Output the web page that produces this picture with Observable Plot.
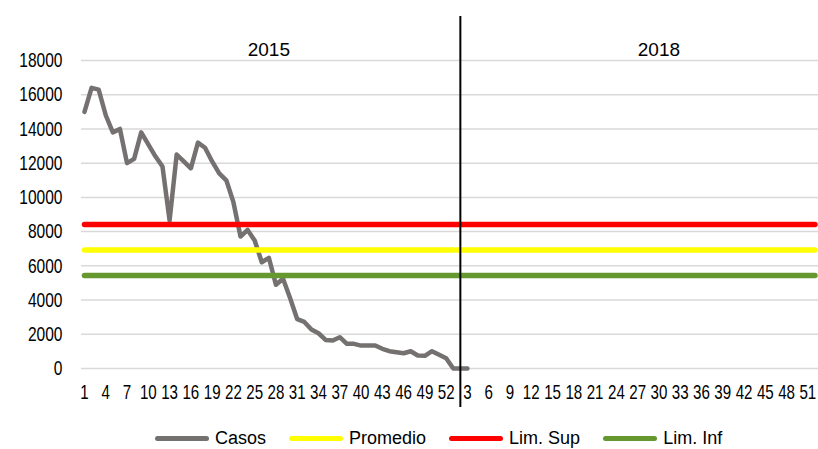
<!DOCTYPE html>
<html>
<head>
<meta charset="utf-8">
<script src="https://cdn.jsdelivr.net/npm/d3@7"></script>
<script src="https://cdn.jsdelivr.net/npm/@observablehq/plot@0.6"></script>
<style>
  html, body { margin: 0; padding: 0; background: #fff; }
  body { width: 818px; height: 449px; position: relative; overflow: hidden; font-family: "Liberation Sans", Arial, sans-serif; }
  #legend { position: absolute; left: 0; top: 428px; height: 20px; display: flex; align-items: center; padding-left: 155px; font-size: 18px; color: #000; }
  .item { display: flex; align-items: center; margin-right: 23px; }
  .sw { display: inline-block; width: 54px; height: 5px; border-radius: 3px; margin-right: 6px; }
</style>
</head>
<body>
<div id="chart"></div>
<div id="legend"></div>
<script>
// ---- data ----
const weeks2015 = d3.range(1, 53);
const weeks2018 = d3.range(1, 53);
const casos2015 = [15000, 16400, 16300, 14800, 13800, 14000, 12000, 12250, 13800, 13100,
  12400, 11800, 8650, 12500, 12100, 11700, 13200, 12900, 12100, 11400,
  11000, 9720, 7710, 8100, 7480, 6210, 6470, 4890, 5240, 4100,
  2880, 2720, 2280, 2060, 1670, 1640, 1830, 1440, 1440, 1340,
  1340, 1340, 1150, 1010, 950, 890, 1010, 760, 740, 1010,
  800, 600];
const casos2018 = [0, 0, 0];
const promedio = 6930;
const limSup = 8420;
const limInf = 5440;
const yTicks = d3.range(0, 18001, 2000);
const yearLabels = [{year: 2015, week: 27, text: "2015"}, {year: 2018, week: 30, text: "2018"}];
const marker = [{year: 2018, week: 2}];
const seriesNames = ["Casos", "Promedio", "Lim. Sup", "Lim. Inf"];
const seriesColors = ["#767171", "#ffff00", "#ff0000", "#65992f"];

// ---- build table ----
const cats = [
  ...weeks2015.map(w => ({year: 2015, week: w})),
  ...weeks2018.map(w => ({year: 2018, week: w}))
];
cats.forEach((d, i) => d.i = i);
const idx = (y, w) => cats.findIndex(d => d.year === y && d.week === w);
const casosData = [
  ...casos2015.map((v, k) => ({i: idx(2015, k + 1), v})),
  ...casos2018.map((v, k) => ({i: idx(2018, k + 1), v}))
];

const plot = Plot.plot({
  width: 818,
  height: 420,
  marginLeft: 81,
  marginRight: 0,
  marginTop: 60,
  marginBottom: 52,
  style: {fontFamily: "Liberation Sans, Arial, sans-serif", fontSize: "21px", color: "#000", background: "#fff"},
  x: {domain: [-0.42, 103.5]},
  y: {domain: [0, 18000]},
  marks: [
    Plot.ruleY(yTicks, {stroke: "#d9d9d9", strokeWidth: 1.5}),
    Plot.lineY(casosData, {x: "i", y: "v", stroke: seriesColors[0], strokeWidth: 4.5, strokeLinejoin: "round"}),
    Plot.lineY(cats, {x: "i", y: () => promedio, stroke: seriesColors[1], strokeWidth: 5.5}),
    Plot.lineY(cats, {x: "i", y: () => limSup, stroke: seriesColors[2], strokeWidth: 5.5}),
    Plot.lineY(cats, {x: "i", y: () => limInf, stroke: seriesColors[3], strokeWidth: 5.5}),
    Plot.ruleX(marker, {x: d => idx(d.year, d.week), stroke: "#000", strokeWidth: 2, insetTop: -44, insetBottom: -39}),
    Plot.text(yearLabels, {x: d => idx(d.year, d.week), frameAnchor: "top", dy: -18, text: "text", fontSize: 19}),
    Plot.axisY(yTicks, {tickSize: 0, tickPadding: 19, label: null, tickFormat: d => String(d)}),
    Plot.axisX(d3.range(0, cats.length, 3), {tickSize: 0, tickPadding: 16, label: null, tickFormat: i => String(cats[i].week)})
  ]
});
document.getElementById("chart").appendChild(plot);

// condensed axis text
plot.querySelectorAll("g[aria-label='y-axis tick label'] text").forEach(t => {
  const L = t.getComputedTextLength();
  t.setAttribute("textLength", (L * 0.74).toFixed(2));
  t.setAttribute("lengthAdjust", "spacingAndGlyphs");
});
plot.querySelectorAll("g[aria-label='x-axis tick label'] text").forEach(t => {
  const L = t.getComputedTextLength();
  t.setAttribute("textLength", (L * 0.72).toFixed(2));
  t.setAttribute("lengthAdjust", "spacingAndGlyphs");
});

// legend
const legend = document.getElementById("legend");
seriesNames.forEach((name, k) => {
  const item = document.createElement("div");
  item.className = "item";
  const sw = document.createElement("span");
  sw.className = "sw";
  sw.style.background = seriesColors[k];
  const tx = document.createElement("span");
  tx.textContent = name;
  item.appendChild(sw);
  item.appendChild(tx);
  legend.appendChild(item);
});
</script>
</body>
</html>
